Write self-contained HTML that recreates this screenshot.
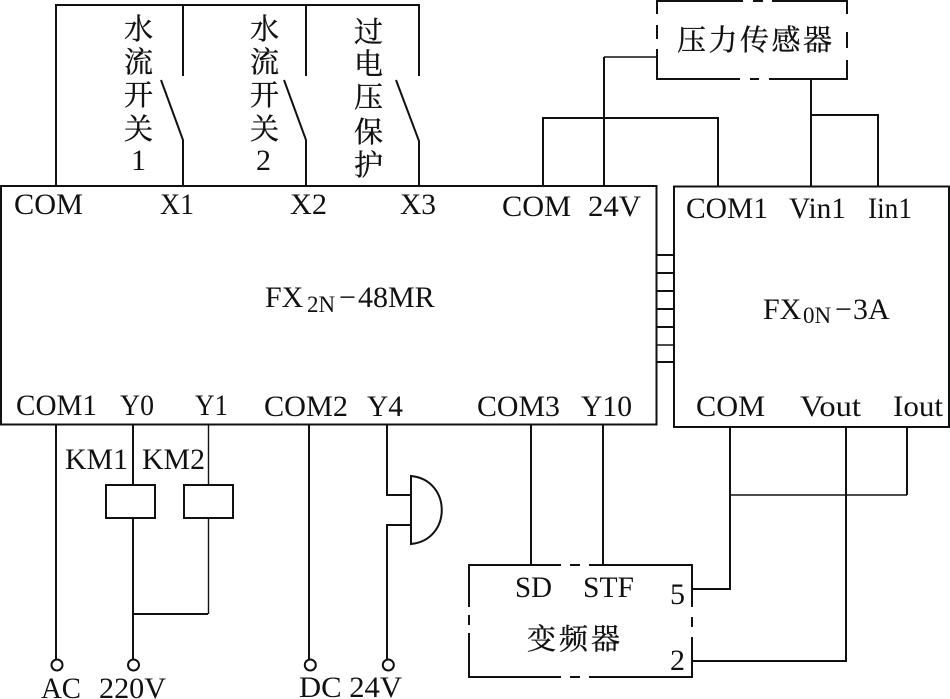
<!DOCTYPE html>
<html><head><meta charset="utf-8"><style>
html,body{margin:0;padding:0;background:#fff;}
svg{display:block;}
text{font-family:"Liberation Serif","Noto Serif CJK SC",serif;fill:#111;font-size:30px;}
.c{font-size:29px;font-family:"Noto Serif CJK SC","Liberation Serif",serif;stroke:#111;stroke-width:.35;}
.l{stroke:#111;stroke-width:2;fill:none;}
.t{stroke:#111;stroke-width:1.4;fill:none;}
</style></head><body>
<svg width="950" height="699" viewBox="0 0 950 699" xmlns="http://www.w3.org/2000/svg">
<g class="l">
<rect x="1" y="186" width="655.5" height="238.5"/>
<rect x="674" y="186.5" width="275" height="240.5"/>
<path d="M56 186V5H419V76M183 5V76M306 5V76"/>
<path d="M161 80L183 140V186M284 80L306 140V186M396 80L419 141V186"/>
<path d="M543 186V118H718V186M604 186V57"/>
<path d="M811 186V79M811 115H878V186"/>
<path d="M657 14V1H743M753 1H763M772 1H847V14M847 32V48M847 60V79H769M759 79H750M740 79H657V49M657 39V25"/>
<path d="M656 255H674M656 273H674M656 291H674M656 309H674M656 327H674M656 362H674"/>
<path d="M56 425V660M133 425V485M133 518V660M133 614H208"/>
<rect x="106" y="485" width="49" height="33"/>
<rect x="184" y="485" width="49" height="33"/>
<path d="M309 425V660M387 425V495H411M387 660V525H411"/>
<path d="M411 476V544C452 540 452 480 411 476Z"/>
<path d="M531 425V565M603 425V565"/>
<path d="M561 565H469V607M469 615V625M469 633V677H561M570 677H580M589 677H692V637M692 627V617M692 607V565H589M580 565H570"/>
<path d="M730 427V589H692M846 427V661H692M907 427V495"/>
<circle cx="57" cy="665" r="5.5"/>
<circle cx="133.500" cy="665" r="5.500"/>
<circle cx="310.300" cy="665" r="5.500"/>
<circle cx="388.300" cy="665" r="5.500"/>
</g>
<g class="t">
<path d="M604 57H657M656 345H674M208.500 425V485M208.500 518V614M730 495H907"/>
</g>
<g>
<text x="124" y="39" class="c">水</text><text x="124" y="72" class="c">流</text><text x="124" y="105" class="c">开</text><text x="124" y="139" class="c">关</text><text x="131" y="170">1</text>
<text x="250" y="39" class="c">水</text><text x="250" y="72" class="c">流</text><text x="250" y="105" class="c">开</text><text x="250" y="139" class="c">关</text><text x="256" y="170">2</text>
<text x="354" y="42" class="c">过</text><text x="354" y="74" class="c">电</text><text x="354" y="107" class="c">压</text><text x="354" y="142" class="c">保</text><text x="354" y="175" class="c">护</text>
<text x="677" y="50" class="c" textLength="155">压力传感器</text>
<text x="14" y="214" textLength="69" lengthAdjust="spacingAndGlyphs">COM</text>
<text x="160" y="214" textLength="34" lengthAdjust="spacingAndGlyphs">X1</text>
<text x="290" y="214" textLength="37" lengthAdjust="spacingAndGlyphs">X2</text>
<text x="400" y="214" textLength="36" lengthAdjust="spacingAndGlyphs">X3</text>
<text x="502" y="216" textLength="69" lengthAdjust="spacingAndGlyphs">COM</text>
<text x="588" y="216" textLength="53" lengthAdjust="spacingAndGlyphs">24V</text>
<text x="686" y="218" textLength="82" lengthAdjust="spacingAndGlyphs">COM1</text>
<text x="789" y="218" textLength="57" lengthAdjust="spacingAndGlyphs">Vin1</text>
<text x="868" y="218" textLength="44" lengthAdjust="spacingAndGlyphs">Iin1</text>
<text y="307"><tspan x="265">FX</tspan><tspan x="307" y="312" font-size="23">2N</tspan><tspan x="339" y="307">−</tspan><tspan x="358">48MR</tspan></text>
<text y="319"><tspan x="763">FX</tspan><tspan x="803" y="323" font-size="23">0N</tspan><tspan x="835" y="319">−</tspan><tspan x="853">3A</tspan></text>
<text x="16" y="415" textLength="81" lengthAdjust="spacingAndGlyphs">COM1</text>
<text x="120" y="415" textLength="34" lengthAdjust="spacingAndGlyphs">Y0</text>
<text x="195" y="415" textLength="33" lengthAdjust="spacingAndGlyphs">Y1</text>
<text x="264" y="416" textLength="84" lengthAdjust="spacingAndGlyphs">COM2</text>
<text x="367" y="416" textLength="36" lengthAdjust="spacingAndGlyphs">Y4</text>
<text x="477" y="416" textLength="83" lengthAdjust="spacingAndGlyphs">COM3</text>
<text x="581" y="416" textLength="51" lengthAdjust="spacingAndGlyphs">Y10</text>
<text x="696" y="416" textLength="69" lengthAdjust="spacingAndGlyphs">COM</text>
<text x="800" y="416" textLength="61" lengthAdjust="spacingAndGlyphs">Vout</text>
<text x="893" y="416" textLength="50" lengthAdjust="spacingAndGlyphs">Iout</text>
<text x="65" y="469" textLength="63" lengthAdjust="spacingAndGlyphs">KM1</text>
<text x="142" y="469" textLength="63" lengthAdjust="spacingAndGlyphs">KM2</text>
<text x="515" y="597" textLength="37" lengthAdjust="spacingAndGlyphs">SD</text>
<text x="583" y="597" textLength="51" lengthAdjust="spacingAndGlyphs">STF</text>
<text x="670" y="604">5</text><text x="670" y="670">2</text>
<text x="527" y="649" class="c" textLength="93">变频器</text>
<text x="41" y="698" textLength="40" lengthAdjust="spacingAndGlyphs">AC</text>
<text x="99" y="698" textLength="67" lengthAdjust="spacingAndGlyphs">220V</text>
<text x="299" y="697" textLength="103" lengthAdjust="spacingAndGlyphs">DC 24V</text>
</g>
</svg>
</body></html>
